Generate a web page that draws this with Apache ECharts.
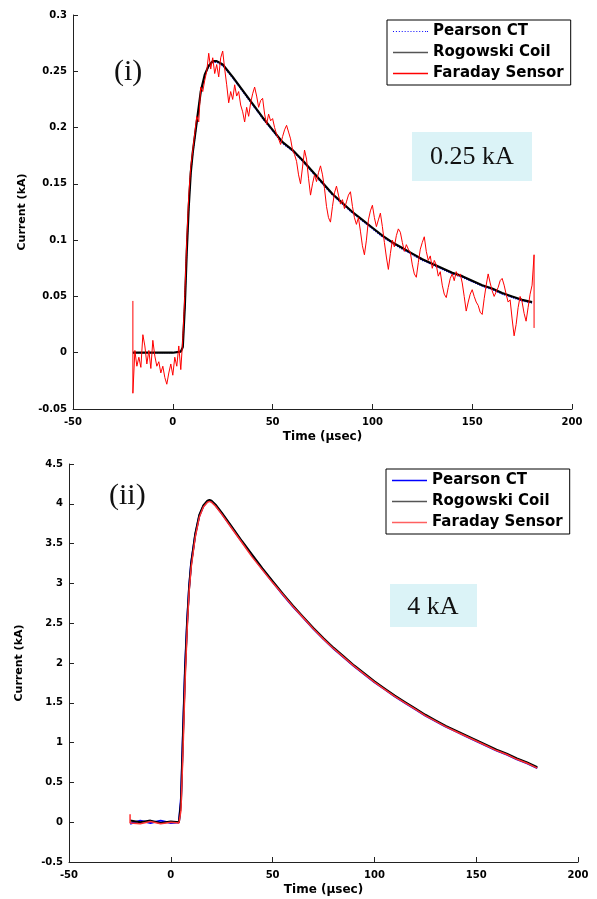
<!DOCTYPE html>
<html>
<head>
<meta charset="utf-8">
<script src="https://cdn.jsdelivr.net/npm/echarts@6/dist/echarts.min.js"></script>
<style>
html,body{margin:0;padding:0;background:#fff;}
#chart{width:597px;height:899px;}
</style>
</head>
<body>
<div id="chart"></div>
<script>
// ---------- Panel (i): 0.25 kA ----------
var timeI = [-20,-15,-10,-5,0,4,5,6,7,8,9,10,12,14,16,18,20,22,25,30,35,40,45,50,55,60,65,70,75,80,85,90,95,100,105,110,115,120,125,130,135,140,145,150,155,160,165,170,175,180];
var rogowskiI = [0,0,0,0,0,0.001,0.005,0.04,0.09,0.13,0.16,0.178,0.205,0.232,0.247,0.255,0.259,0.259,0.256,0.245,0.233,0.221,0.209,0.198,0.187,0.18,0.171,0.161,0.151,0.141,0.133,0.125,0.118,0.111,0.104,0.098,0.093,0.088,0.083,0.079,0.075,0.071,0.068,0.064,0.060,0.057,0.053,0.050,0.047,0.045];
var pearsonI = [0,0,0,0,0,0.001,0.006,0.042,0.091,0.131,0.16,0.177,0.204,0.231,0.246,0.254,0.258,0.258,0.255,0.244,0.232,0.22,0.208,0.197,0.186,0.179,0.17,0.16,0.15,0.14,0.132,0.124,0.117,0.110,0.103,0.097,0.092,0.087,0.082,0.078,0.074,0.070,0.067,0.063,0.059,0.056,0.052,0.049,0.046,0.044];
var faradayI = [[-20,0.046],[-20,-0.036],[-19,0.002],[-18,-0.012],[-17,-0.004],[-16,-0.013],[-15,0.016],[-14,0.006],[-13,-0.010],[-12,0.002],[-11,-0.014],[-10,0.011],[-9,-0.003],[-8,-0.012],[-7,-0.008],[-6,-0.018],[-5,-0.012],[-4,-0.022],[-3,-0.028],[-2,-0.018],[-1,-0.010],[0,-0.020],[1,-0.004],[2,-0.012],[3,0.006],[4,-0.015],[5,0.012],[6,0.05],[7,0.10],[8,0.14],[9,0.165],[10,0.18],[11,0.195],[12,0.21],[13,0.205],[14,0.236],[15,0.232],[16,0.242],[17,0.25],[18,0.266],[19,0.252],[20,0.262],[21,0.248],[22,0.256],[23,0.245],[24,0.262],[25,0.268],[26,0.252],[27,0.238],[28,0.222],[29,0.232],[30,0.225],[31,0.238],[32,0.228],[33,0.232],[34,0.22],[35,0.214],[36,0.205],[37,0.218],[38,0.21],[39,0.222],[40,0.23],[41,0.236],[42,0.228],[43,0.218],[44,0.224],[45,0.226],[46,0.212],[47,0.203],[48,0.212],[49,0.206],[50,0.208],[51,0.2],[52,0.194],[53,0.19],[54,0.185],[55,0.192],[56,0.198],[57,0.202],[58,0.196],[59,0.19],[60,0.18],[61,0.176],[62,0.17],[63,0.158],[64,0.15],[65,0.165],[66,0.18],[67,0.172],[68,0.155],[69,0.14],[70,0.15],[71,0.158],[72,0.152],[73,0.16],[74,0.166],[75,0.158],[76,0.146],[77,0.13],[78,0.12],[79,0.116],[80,0.13],[81,0.142],[82,0.148],[83,0.14],[84,0.132],[85,0.136],[86,0.128],[87,0.134],[88,0.14],[89,0.143],[90,0.13],[91,0.12],[92,0.114],[93,0.12],[94,0.108],[95,0.095],[96,0.087],[97,0.1],[98,0.118],[99,0.126],[100,0.131],[101,0.12],[102,0.112],[103,0.118],[104,0.124],[105,0.112],[106,0.098],[107,0.085],[108,0.074],[109,0.088],[110,0.1],[111,0.094],[112,0.104],[113,0.11],[114,0.107],[115,0.098],[116,0.09],[117,0.096],[118,0.092],[119,0.089],[120,0.078],[121,0.07],[122,0.067],[123,0.08],[124,0.092],[125,0.098],[126,0.103],[127,0.09],[128,0.082],[129,0.086],[130,0.075],[131,0.082],[132,0.078],[133,0.068],[134,0.072],[135,0.06],[136,0.052],[137,0.049],[138,0.058],[139,0.066],[140,0.07],[141,0.064],[142,0.072],[143,0.068],[144,0.07],[145,0.062],[146,0.05],[147,0.037],[148,0.045],[149,0.052],[150,0.056],[151,0.05],[152,0.045],[153,0.042],[154,0.036],[155,0.034],[156,0.048],[157,0.06],[158,0.07],[159,0.062],[160,0.055],[161,0.05],[162,0.049],[163,0.058],[164,0.064],[165,0.066],[166,0.06],[167,0.052],[168,0.045],[169,0.047],[170,0.03],[171,0.015],[172,0.025],[173,0.04],[174,0.05],[175,0.045],[176,0.035],[177,0.028],[178,0.04],[179,0.052],[180,0.06],[181,0.087],[181,0.022]];

// ---------- Panel (ii): 4 kA ----------
var timeII = [-20,-15,-10,-5,0,4,5,6,7,8,9,10,12,14,16,18,19,20,22,25,30,35,40,45,50,55,60,65,70,75,80,85,90,95,100,105,110,115,120,125,130,135,140,145,150,155,160,165,170,175,180];
var rogowskiII = [0.02,0.0,0.02,-0.01,0.01,0.0,0.25,1.1,1.9,2.5,2.95,3.25,3.62,3.86,3.98,4.04,4.05,4.04,3.99,3.89,3.71,3.53,3.36,3.19,3.03,2.87,2.72,2.58,2.44,2.31,2.19,2.08,1.97,1.87,1.77,1.68,1.59,1.51,1.43,1.35,1.28,1.21,1.15,1.09,1.03,0.97,0.91,0.86,0.80,0.75,0.69];
var pearsonII = [-0.02,0.02,-0.01,0.02,-0.01,0.0,0.3,1.15,1.95,2.52,2.96,3.26,3.61,3.85,3.97,4.03,4.04,4.03,3.98,3.88,3.70,3.52,3.35,3.18,3.02,2.86,2.71,2.57,2.43,2.30,2.18,2.07,1.96,1.86,1.76,1.67,1.58,1.50,1.42,1.34,1.27,1.20,1.14,1.08,1.02,0.96,0.90,0.85,0.79,0.74,0.68];
var faradayTimeII = [-20,-20,-15,-10,-5,0,4,5,6,7,8,9,10,12,14,16,18,19,20,22,25,30,35,40,45,50,55,60,65,70,75,80,85,90,95,100,105,110,115,120,125,130,135,140,145,150,155,160,165,170,175,180];
var faradayII = [0.1,-0.01,-0.02,0.01,-0.02,0.0,-0.01,0.15,0.9,1.75,2.4,2.9,3.2,3.58,3.83,3.96,4.02,4.03,4.02,3.97,3.87,3.69,3.51,3.33,3.17,3.01,2.86,2.71,2.57,2.43,2.30,2.18,2.07,1.96,1.86,1.76,1.67,1.58,1.50,1.42,1.34,1.27,1.20,1.14,1.08,1.02,0.96,0.90,0.85,0.79,0.74,0.68];

// ---------- Axis ticks ----------
var xTicks = {min: -50, max: 200, interval: 50};
var yTicksI = {min: -0.05, max: 0.3, interval: 0.05};
var yTicksII = {min: -0.5, max: 4.5, interval: 0.5};
var seriesNames = ['Pearson CT', 'Rogowski Coil', 'Faraday Sensor'];
var panelLabels = ['(i)', '(ii)'];
var boxLabels = ['0.25 kA', '4 kA'];

function zip(t, v) { return t.map(function (x, i) { return [x, v[i]]; }); }

var tickFont = {fontFamily: 'DejaVu Sans', fontWeight: 'bold', fontSize: 10, color: '#000'};
var axisLine = {show: true, onZero: false, lineStyle: {color: '#222', width: 1}};

function xAxis(gi) {
  return {
    type: 'value', gridIndex: gi, min: xTicks.min, max: xTicks.max, interval: xTicks.interval,
    axisLine: axisLine, axisTick: {show: true, inside: true, length: 5, lineStyle: {color: '#222'}},
    splitLine: {show: false}, axisLabel: Object.assign({margin: 8}, tickFont),
    name: 'Time (μsec)', nameLocation: 'middle', nameGap: 22,
    nameTextStyle: {fontFamily: 'DejaVu Sans', fontWeight: 'bold', fontSize: 12, color: '#000'}
  };
}
function yAxis(gi, tk) {
  return {
    type: 'value', gridIndex: gi, min: tk.min, max: tk.max, interval: tk.interval,
    axisLine: axisLine, axisTick: {show: true, inside: true, length: 5, lineStyle: {color: '#222'}},
    splitLine: {show: false},
    axisLabel: Object.assign({margin: 6, formatter: function (v) { return String(+v.toFixed(2)); }}, tickFont),
    name: 'Current (kA)', nameLocation: 'middle', nameGap: 44,
    nameTextStyle: {fontFamily: 'DejaVu Sans', fontWeight: 'bold', fontSize: 11, color: '#000'}
  };
}

var legendText = {fontFamily: 'DejaVu Sans', fontWeight: 'bold', fontSize: 15, color: '#000'};
var dottedIcon = 'path://M0,0h1v1h-1z M3,0h1v1h-1z M6,0h1v1h-1z M9,0h1v1h-1z M12,0h1v1h-1z M15,0h1v1h-1z M18,0h1v1h-1z M21,0h1v1h-1z M24,0h1v1h-1z M27,0h1v1h-1z M30,0h1v1h-1z M33,0h1v1h-1z M35,0h1v1h-1z';

function legendBox(left, top, items) {
  return {
    left: left, top: top, orient: 'vertical', selectedMode: false,
    itemWidth: 35, itemHeight: 1.5, itemGap: 6, padding: [4, 7, 4, 6],
    borderColor: '#000', borderWidth: 1, backgroundColor: '#fff',
    textStyle: legendText,
    data: items
  };
}

var option = {
  animation: false,
  backgroundColor: '#fff',
  grid: [
    {left: 73, right: 25, top: 15, bottom: 490},
    {left: 69, right: 19, top: 464, bottom: 37}
  ],
  xAxis: [xAxis(0), xAxis(1)],
  yAxis: [yAxis(0, yTicksI), yAxis(1, yTicksII)],
  legend: [
    legendBox(387, 20, [
      {name: seriesNames[0], icon: dottedIcon, itemStyle: {color: '#0000ff', borderWidth: 0}},
      {name: seriesNames[1], icon: 'rect', itemStyle: {color: '#555', borderWidth: 0}},
      {name: seriesNames[2], icon: 'rect', itemStyle: {color: '#ff0000', borderWidth: 0}}
    ]),
    legendBox(386, 469, [
      {name: seriesNames[0], icon: 'rect', itemStyle: {color: '#0000ff', borderWidth: 0}},
      {name: seriesNames[1], icon: 'rect', itemStyle: {color: '#555', borderWidth: 0}},
      {name: seriesNames[2], icon: 'rect', itemStyle: {color: '#ff6060', borderWidth: 0}}
    ])
  ],
  series: [
    {name: seriesNames[0], type: 'line', xAxisIndex: 0, yAxisIndex: 0, symbol: 'none', showSymbol: false,
     data: zip(timeI, pearsonI), lineStyle: {color: '#0000ff', width: 1.2, type: 'dotted'}, itemStyle: {color: '#0000ff'}},
    {name: seriesNames[1], type: 'line', xAxisIndex: 0, yAxisIndex: 0, symbol: 'none', showSymbol: false,
     data: zip(timeI, rogowskiI), lineStyle: {color: '#000', width: 2.2}, itemStyle: {color: '#000'}},
    {name: seriesNames[2], type: 'line', xAxisIndex: 0, yAxisIndex: 0, symbol: 'none', showSymbol: false,
     data: faradayI, lineStyle: {color: '#ff0000', width: 1}, itemStyle: {color: '#ff0000'}},
    {name: seriesNames[0], type: 'line', xAxisIndex: 1, yAxisIndex: 1, symbol: 'none', showSymbol: false,
     data: zip(timeII, pearsonII), lineStyle: {color: '#0000ff', width: 2}, itemStyle: {color: '#0000ff'}},
    {name: seriesNames[1], type: 'line', xAxisIndex: 1, yAxisIndex: 1, symbol: 'none', showSymbol: false,
     data: zip(timeII, rogowskiII), lineStyle: {color: '#000', width: 2}, itemStyle: {color: '#000'}},
    {name: seriesNames[2], type: 'line', xAxisIndex: 1, yAxisIndex: 1, symbol: 'none', showSymbol: false,
     data: zip(faradayTimeII, faradayII), lineStyle: {color: '#ff3030', width: 1.5}, itemStyle: {color: '#ff3030'}}
  ],
  graphic: [
    {type: 'text', left: 114, top: 57, style: {text: panelLabels[0], font: '30px "Liberation Serif"', fill: '#111'}},
    {type: 'text', left: 109, top: 481, style: {text: panelLabels[1], font: '30px "Liberation Serif"', fill: '#111'}},
    {type: 'group', left: 412, top: 132, children: [
      {type: 'rect', shape: {x: 0, y: 0, width: 120, height: 49}, style: {fill: '#dbf3f7'}},
      {type: 'text', x: 60, y: 25, style: {text: boxLabels[0], font: '26px "Liberation Serif"', fill: '#111', align: 'center', verticalAlign: 'middle'}}
    ]},
    {type: 'group', left: 390, top: 584, children: [
      {type: 'rect', shape: {x: 0, y: 0, width: 87, height: 43}, style: {fill: '#dbf3f7'}},
      {type: 'text', x: 43, y: 23, style: {text: boxLabels[1], font: '26px "Liberation Serif"', fill: '#111', align: 'center', verticalAlign: 'middle'}}
    ]}
  ]
};

var chart = echarts.init(document.getElementById('chart'), null, {renderer: 'canvas'});
chart.setOption(option);
</script>
</body>
</html>
